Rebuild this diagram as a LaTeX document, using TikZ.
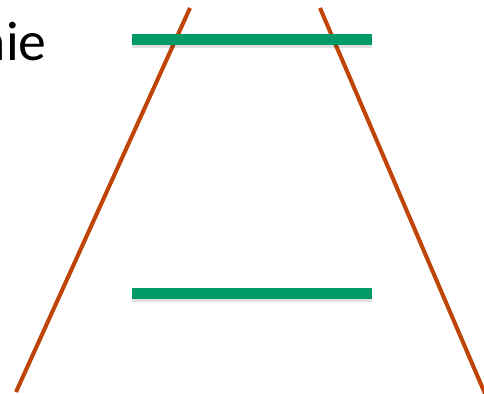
\documentclass[tikz,border=0pt]{standalone}
\usepackage{fontspec}
\setmainfont{Carlito}
\usetikzlibrary{positioning}

\definecolor{rungreen}{RGB}{0,155,105}
\definecolor{railbrown}{RGB}{190,68,8}

\begin{document}
\begin{tikzpicture}[
    x = 0.02cm, y = -0.02cm,
    rail/.style    = {draw = railbrown, line width = 2.3pt},
    rung/.style    = {draw = rungreen, line width = 6.2pt},
    rungshade/.style = {draw = black, line width = 6.2pt, opacity = 0.12},
    label/.style   = {font = \fontsize{31.7}{36}\selectfont, inner sep = 0pt}
  ]
  \useasboundingbox (0,0) rectangle (484,394);

  % text cut at the left edge
  \node[label, anchor = base east] (word) at (47,61) {nie};

  % the two slanted rails
  \coordinate (ltop) at (190,8);
  \coordinate (lbot) at (16,392);
  \coordinate (rtop) at (320,8);
  \coordinate (rbot) at (486,396);
  \draw[rail] (ltop) -- (lbot);
  \draw[rail] (rtop) -- (rbot);

  % the two green bars, with a soft shade under them
  \coordinate (tl) at (132,39.5);
  \coordinate (tr) at (372,39.5);
  \coordinate (bl) at (132,293.5);
  \coordinate (br) at (372,293.5);
  \draw[rungshade] ([yshift=-1.5pt]tl) -- ([yshift=-1.5pt]tr);
  \draw[rungshade] ([yshift=-1.5pt]bl) -- ([yshift=-1.5pt]br);
  \draw[rung] (tl) -- (tr);
  \draw[rung] (bl) -- (br);

\end{tikzpicture}
\end{document}
